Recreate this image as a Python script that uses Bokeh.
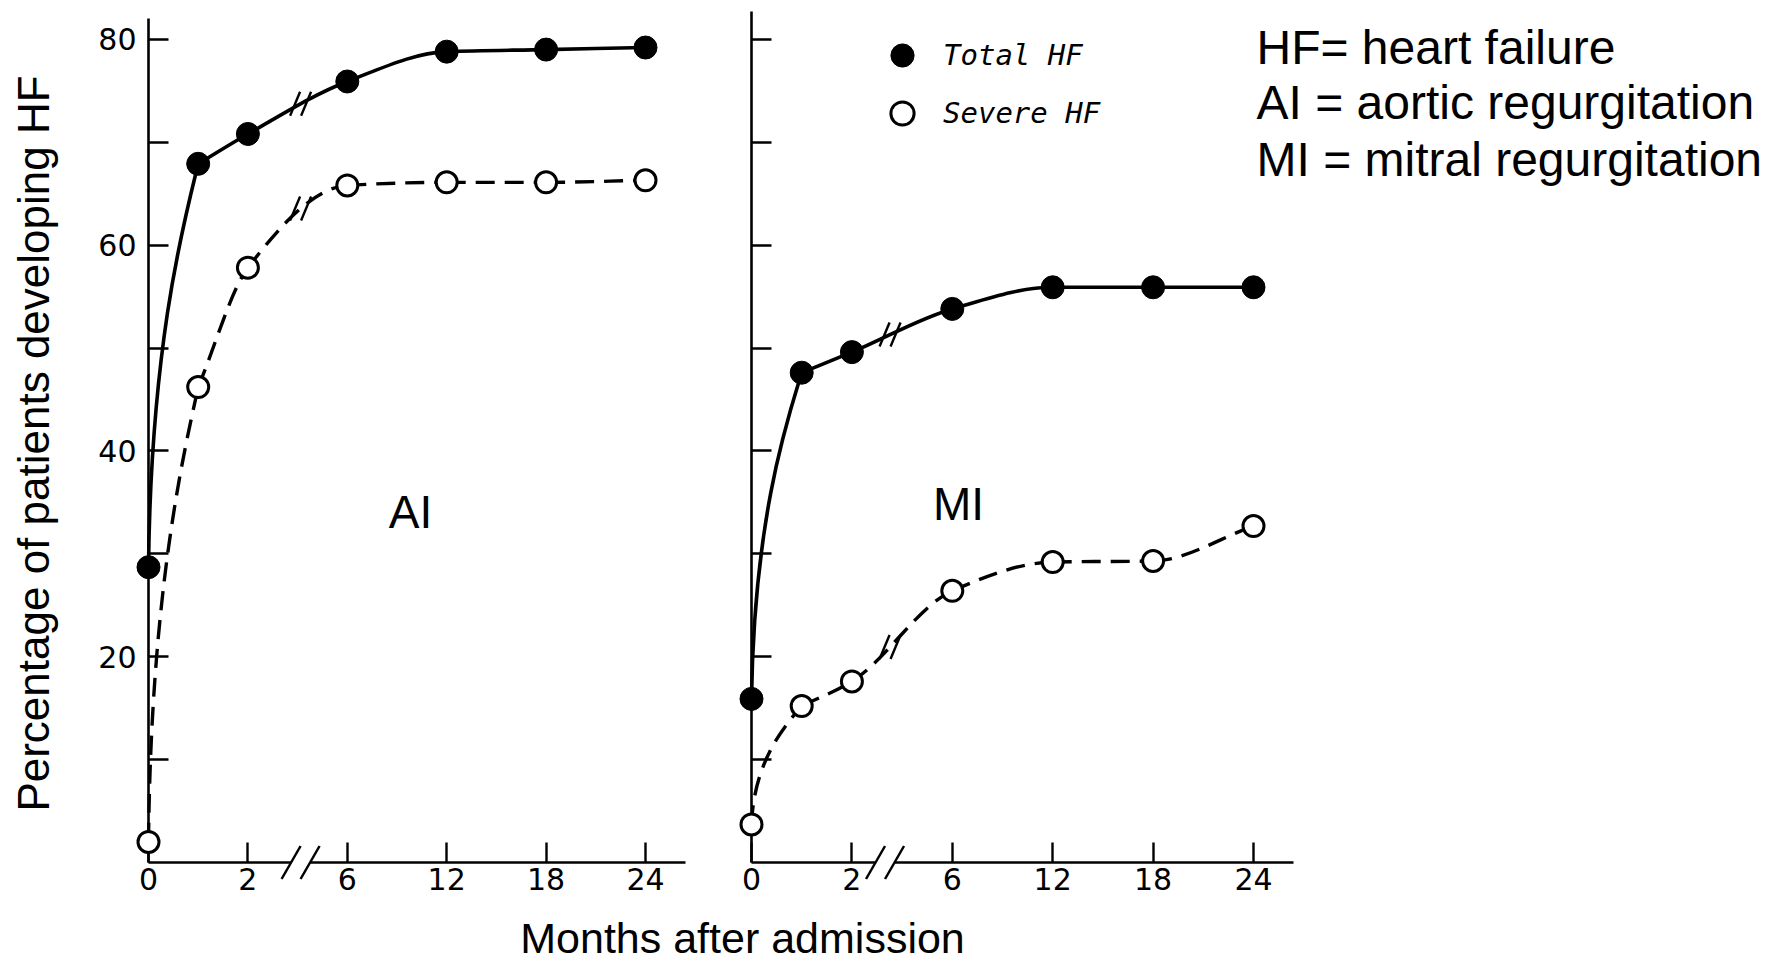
import math
from bokeh.plotting import figure
from bokeh.models import Range1d, LinearAxis, FixedTicker, Label, Legend, LegendItem
from bokeh.embed import file_html
from bokeh.resources import INLINE

# ---------------- data ----------------
months = [0, 1, 2, 6, 12, 18, 24]
ai_total = [28.7, 67.9, 70.8, 75.9, 78.8, 79.0, 79.2]
ai_severe = [2.0, 46.2, 57.8, 65.8, 66.1, 66.1, 66.3]
mi_total = [15.9, 47.6, 49.6, 53.8, 55.9, 55.9, 55.9]
mi_severe = [3.7, 15.2, 17.6, 26.4, 29.2, 29.3, 32.7]
month_ticks = [0, 2, 6, 12, 18, 24]
pct_label_ticks = [20, 40, 60, 80]
pct_minor_ticks = [10, 30, 50, 70]
series_names = ["Total HF", "Severe HF"]
panel_names = ["AI", "MI"]
notes = ["HF= heart failure", "AI = aortic regurgitation", "MI = mitral regurgitation"]
x_title = "Months after admission"
y_title = "Percentage of patients developing HF"

# ---------------- layout (canvas pixels) ----------------
CW, CH = 1761, 963
XL0, XLS = 148, 99.4      # left panel: x of month 0, px per axis unit
XR0, XRS = 751, 100.4     # right panel
Y0P, YS = 862, 10.29      # y of 0 %, px per percent


def pos(m):
    """broken month axis: 0-2 months stretched, then 6-month steps"""
    v = m / 2 if m <= 2 else 2 + (m - 6) / 6
    return int(v) if float(v).is_integer() else v


def px2x(px):
    return (px - XL0) / XLS


def py2y(py):
    return (Y0P - py) / YS


p = figure(width=CW, height=CH, output_backend="svg", toolbar_location=None,
           x_range=Range1d(-XL0 / XLS, (CW - XL0) / XLS),
           y_range=Range1d(-(CH - Y0P) / YS, Y0P / YS),
           x_axis_type=None, y_axis_type=None, min_border=0)
p.extra_x_ranges = {"r": Range1d(-XR0 / XRS, (CW - XR0) / XRS)}
p.outline_line_color = None
p.background_fill_color = "white"
p.border_fill_color = "white"


def style_axis(ax):
    ax.axis_line_width = 2.6
    ax.axis_line_color = "black"
    for pre in ("major", "minor"):
        setattr(ax, pre + "_tick_line_width", 2.4)
        setattr(ax, pre + "_tick_line_color", "black")
        setattr(ax, pre + "_tick_in", 20)
        setattr(ax, pre + "_tick_out", 0)
    ax.major_label_text_font = "DejaVu Sans"
    ax.major_label_text_font_size = "30px"
    ax.major_label_text_color = "black"


mt_pos = [pos(m) for m in month_ticks]
mt_over = {pos(m): str(m) for m in month_ticks}

for rname in ("default", "r"):
    xa = LinearAxis(x_range_name=rname, fixed_location=0, bounds=(0, 5.4),
                    ticker=FixedTicker(ticks=mt_pos, minor_ticks=[]),
                    major_label_overrides=mt_over, major_label_standoff=5)
    style_axis(xa)
    p.add_layout(xa, "below")

# left percentage axis: labelled ticks every 20, unlabelled ticks in between
ya = LinearAxis(fixed_location=0, bounds=(0, 82),
                ticker=FixedTicker(ticks=pct_label_ticks, minor_ticks=pct_minor_ticks),
                major_label_standoff=12)
style_axis(ya)
p.add_layout(ya, "left")

# right panel's vertical axis: same ticks, no labels
yb = LinearAxis(x_range_name="r", fixed_location=0, bounds=(0, 82.7),
                ticker=FixedTicker(ticks=[], minor_ticks=sorted(pct_label_ticks + pct_minor_ticks)))
style_axis(yb)
p.add_layout(yb, "left")


# ---------------- smooth curves through the data points ----------------
def curve_parts(xs, ys):
    """first (steep) segment hugs the axis; the rest is a monotone cubic."""
    keys = ("x0", "y0", "x1", "y1", "cx0", "cy0", "cx1", "cy1")
    d = {k: [] for k in keys}

    def add(vals):
        for k, v in zip(keys, vals):
            d[k].append(v)

    ax, ay, bx, by = xs[0], ys[0], xs[1], ys[1]
    h, dy = bx - ax, by - ay
    add((ax, ay, bx, by, ax + 0.05 * h, ay + 0.55 * dy, bx - 0.3 * h, by - 0.15 * dy))

    X, Y = xs[1:], ys[1:]
    n = len(X)
    hs = [X[k + 1] - X[k] for k in range(n - 1)]
    dl = [(Y[k + 1] - Y[k]) / hs[k] for k in range(n - 1)]
    m = [0.0] * n
    m[0], m[-1] = dl[0], dl[-1]
    for k in range(1, n - 1):
        if dl[k - 1] * dl[k] <= 0:
            m[k] = 0.0
        else:
            w1, w2 = 2 * hs[k] + hs[k - 1], hs[k] + 2 * hs[k - 1]
            m[k] = (w1 + w2) / (w1 / dl[k - 1] + w2 / dl[k])
    for k in range(n - 1):
        hh = hs[k]
        add((X[k], Y[k], X[k + 1], Y[k + 1],
             X[k] + hh / 3, Y[k] + m[k] * hh / 3, X[k + 1] - hh / 3, Y[k + 1] - m[k + 1] * hh / 3))
    return d


def curve_at(d, xq):
    for i in range(len(d["x0"])):
        if d["x0"][i] <= xq <= d["x1"][i]:
            t = (xq - d["x0"][i]) / (d["x1"][i] - d["x0"][i])
            a, b, c, e = d["y0"][i], d["cy0"][i], d["cy1"][i], d["y1"][i]
            return (1 - t) ** 3 * a + 3 * (1 - t) ** 2 * t * b + 3 * (1 - t) * t ** 2 * c + t ** 3 * e
    return None


xpos = [pos(m) for m in months]
renderers = {}
curve_breaks = {"default": 1.53, "r": 1.38}
for rname, tot, sev, sc in (("default", ai_total, ai_severe, XLS), ("r", mi_total, mi_severe, XRS)):
    bt = curve_parts(xpos, tot)
    p.bezier(x_range_name=rname, line_color="black", line_width=3.6, **bt)
    bs = curve_parts(xpos, sev)
    p.bezier(x_range_name=rname, line_color="black", line_width=3.4, line_dash="19 10", **bs)
    # small "//" marks where the curves cross the axis break
    bc = curve_breaks[rname]
    for d in (bt, bs):
        yc = curve_at(d, bc)
        g, sw, sh = 5.5 / sc, 5.0 / sc, 12.0 / YS
        p.segment(x0=[bc - g - sw, bc + g - sw], y0=[yc - sh, yc - sh],
                  x1=[bc - g + sw, bc + g + sw], y1=[yc + sh, yc + sh], x_range_name=rname,
                  line_color="black", line_width=2.4)
    rt = p.scatter(xpos, tot, x_range_name=rname, marker="circle", size=23,
                   fill_color="black", line_color="black", line_width=1, level="overlay")
    rs = p.scatter(xpos, sev, x_range_name=rname, marker="circle", size=21,
                   fill_color="white", line_color="black", line_width=3, level="overlay")
    renderers[rname] = (rt, rs)

# ---------------- axis breaks "//" ----------------
for rname, bc, sc in (("default", 1.53, XLS), ("r", 1.33, XRS)):
    g = 9.5 / sc
    sw = 9.5 / sc
    sh = 16.5 / YS
    p.segment(x0=[bc - g], y0=[0], x1=[bc + g], y1=[0], x_range_name=rname,
              line_color="white", line_width=8, level="overlay")
    p.segment(x0=[bc - g - sw, bc + g - sw], y0=[-sh, -sh],
              x1=[bc - g + sw, bc + g + sw], y1=[sh, sh], x_range_name=rname,
              line_color="black", line_width=2.5, level="overlay")

# ---------------- legend ----------------
rt, rs = renderers["default"]
legend = Legend(items=[LegendItem(label=series_names[0], renderers=[rt]),
                       LegendItem(label=series_names[1], renderers=[rs])],
                location=(873, 821), glyph_width=58, glyph_height=58, spacing=0,
                padding=0, margin=0, border_line_color=None, background_fill_alpha=0,
                label_text_font="DejaVu Sans Mono", label_text_font_style="italic",
                label_text_font_size="29px", label_text_color="black",
                label_standoff=12, label_height=58)
p.add_layout(legend)


# ---------------- texts ----------------
def add_text(txt, cx, cy, size, align="left", angle=0.0):
    p.add_layout(Label(x=px2x(cx), y=py2y(cy), text=txt, text_font="Liberation Sans",
                       text_font_size=size, text_color="black", text_align=align,
                       text_baseline="middle", angle=angle))


add_text(panel_names[0], 410, 511, "46px", "center")
add_text(panel_names[1], 958, 503, "46px", "center")
for t, cy in zip(notes, (47, 102, 159)):
    add_text(t, 1256, cy, "48px", "left")
add_text(x_title, 742, 937, "43px", "center")
add_text(y_title, 33, 443, "44px", "center", math.pi / 2)

open("out.html", "w").write(file_html(p, INLINE))
